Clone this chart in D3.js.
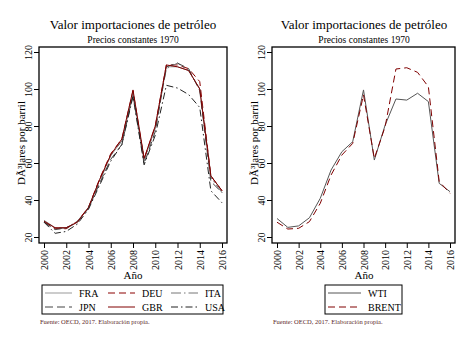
<!DOCTYPE html>
<html>
<head>
<meta charset="utf-8">
<script src="https://cdnjs.cloudflare.com/ajax/libs/d3/7.8.5/d3.min.js"></script>
<style>
  body { margin: 0; background: #fff; }
  svg { display: block; font-family: "Liberation Serif", "DejaVu Serif", serif; }
</style>
</head>
<body>
<div id="chart"></div>
<script>
const years = d3.range(2000, 2017);
const yTicks = [20, 40, 60, 80, 100, 120];
const xTicks = [2000, 2002, 2004, 2006, 2008, 2010, 2012, 2014, 2016];

const fra = [28.5, 25, 24.5, 28, 36, 51, 64, 72, 97, 62, 79, 112, 112, 110, 100, 53, 45];
const deu = [28, 24.5, 24.5, 28.5, 36, 51.5, 65, 73, 99, 62, 80, 113, 113, 111, 104, 53, 45];
const ita = [29, 25, 25, 28.5, 36, 50, 64, 72, 98, 61, 79, 111, 114, 110, 100, 52, 44];
const jpn = [28, 24, 25, 28, 35.5, 49, 62, 70, 97, 59.5, 77, 112, 114, 111, 99, 50, 44];
const gbr = [28.5, 25, 25, 28, 36, 51, 64.5, 73, 99.5, 62.5, 80, 113, 112, 110, 100, 53, 45];
const usa = [28, 22, 23, 27, 35, 48, 61, 70, 96, 59, 75, 102, 100.5, 97, 90, 45, 38.5];

const wti = [30, 25.2, 26, 30.4, 40.9, 56.2, 66.1, 71.5, 99.5, 61.6, 80.5, 94.6, 94, 97.7, 93.2, 49, 44.5];
const brent = [28, 24.3, 24.7, 28.3, 38.2, 53.5, 64.3, 70.6, 96.8, 62.5, 79.6, 110.8, 111.5, 109, 101.2, 50, 43.6];

const W = 474, H = 345;
const svg = d3.select("#chart").append("svg")
    .attr("width", W)
    .attr("height", H);

function drawPanel(p) {
    const g = svg.append("g").attr("transform", `translate(${p.offset},0)`);

    const x = d3.scaleLinear().domain([2000, 2016]).range([p.x0, p.x1]);
    const y = d3.scaleLinear().domain([20, 120]).range([237, 52]);

    // titles
    g.append("text")
        .attr("x", p.cx).attr("y", 29)
        .attr("text-anchor", "middle")
        .style("font-size", "13px")
        .text("Valor importaciones de petróleo");
    g.append("text")
        .attr("x", p.cx).attr("y", 43)
        .attr("text-anchor", "middle")
        .style("font-size", "9.5px")
        .text("Precios constantes 1970");

    // series
    const line = d3.line()
        .x((d, i) => x(years[i]))
        .y(d => y(d));

    p.series.forEach(s => {
        g.append("path")
            .datum(s.values)
            .attr("fill", "none")
            .attr("stroke", s.color)
            .attr("stroke-width", 1)
            .attr("stroke-dasharray", s.dash)
            .attr("d", line);
    });

    // box
    g.append("rect")
        .attr("x", p.bx0).attr("y", 47)
        .attr("width", p.bx1 - p.bx0).attr("height", 196)
        .attr("fill", "none")
        .attr("stroke", "#000")
        .attr("stroke-width", 1.3);

    // y axis
    const yAxis = d3.axisLeft(y).tickValues(yTicks).tickSize(5);
    const ya = g.append("g")
        .attr("transform", `translate(${p.bx0},0)`)
        .call(yAxis);
    ya.select(".domain").remove();
    ya.selectAll("line").attr("stroke", "#000");
    ya.selectAll("text")
        .attr("x", 0).attr("y", 0).attr("dy", 0)
        .attr("transform", "translate(-7,0) rotate(-90)")
        .attr("text-anchor", "middle")
        .style("font-family", "Liberation Serif, serif")
        .style("font-size", "10px")
        .attr("fill", "#000");

    g.append("text")
        .attr("transform", `translate(${p.bx0 - 14},143) rotate(-90)`)
        .attr("text-anchor", "middle")
        .style("font-size", "11px")
        .text("DÃ³lares por barril");

    // x axis
    const xAxis = d3.axisBottom(x).tickValues(xTicks).tickFormat(d3.format("d")).tickSize(5);
    const xa = g.append("g")
        .attr("transform", "translate(0,243)")
        .call(xAxis);
    xa.select(".domain").remove();
    xa.selectAll("line").attr("stroke", "#000");
    xa.selectAll("text")
        .attr("y", 0).attr("dy", 0)
        .attr("transform", "translate(3.5,7) rotate(-90)")
        .attr("text-anchor", "end")
        .style("font-family", "Liberation Serif, serif")
        .style("font-size", "10px")
        .attr("fill", "#000");

    g.append("text")
        .attr("x", p.cx).attr("y", 279)
        .attr("text-anchor", "middle")
        .style("font-size", "11px")
        .text("Año");

    // legend
    const lg = g.append("g");
    lg.append("rect")
        .attr("x", p.legend.x).attr("y", 285)
        .attr("width", p.legend.w).attr("height", 29)
        .attr("fill", "none")
        .attr("stroke", "#000")
        .attr("stroke-width", 1);
    p.series.forEach((s, i) => {
        const col = i % p.legend.cols;
        const row = Math.floor(i / p.legend.cols);
        const lx = p.legend.x + 3 + col * 63;
        const ly = 293 + row * 14;
        lg.append("line")
            .attr("x1", lx).attr("x2", lx + p.legend.len)
            .attr("y1", ly).attr("y2", ly)
            .attr("stroke", s.color)
            .attr("stroke-width", 1)
            .attr("stroke-dasharray", s.dash);
        lg.append("text")
            .attr("x", lx + p.legend.len + 7).attr("y", ly + 3.5)
            .style("font-size", "10px")
            .text(s.name);
    });

    g.append("text")
        .attr("x", p.bx0 + 1).attr("y", 324)
        .style("font-size", "6.5px")
        .attr("fill", "#5c2a2a")
        .text("Fuente: OECD, 2017. Elaboración propia.");
}

drawPanel({
    offset: 0,
    x0: 44, x1: 222, bx0: 39, bx1: 227, cx: 133,
    legend: {x: 42, w: 181, cols: 3, len: 27},
    series: [
        {name: "FRA", values: fra, color: "#999", dash: null},
        {name: "DEU", values: deu, color: "#8b0000", dash: "7,4"},
        {name: "ITA", values: ita, color: "#777", dash: "10,3,1.5,3"},
        {name: "JPN", values: jpn, color: "#444", dash: "8,4"},
        {name: "GBR", values: gbr, color: "#800000", dash: null},
        {name: "USA", values: usa, color: "#222", dash: "7,3,1.5,3"}
    ]
});

drawPanel({
    offset: 237,
    x0: 40, x1: 213, bx0: 35, bx1: 218, cx: 127,
    legend: {x: 88, w: 77, cols: 1, len: 33},
    series: [
        {name: "WTI", values: wti, color: "#555", dash: null},
        {name: "BRENT", values: brent, color: "#800000", dash: "7,4"}
    ]
});
</script>
</body>
</html>
